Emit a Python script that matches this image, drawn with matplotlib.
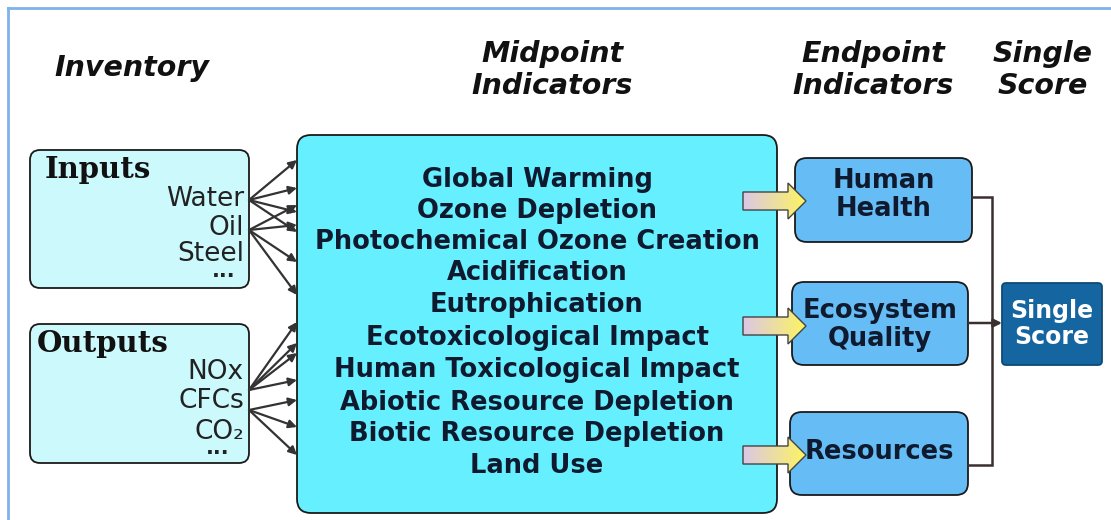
import matplotlib
matplotlib.use("Agg")
import matplotlib.pyplot as plt
import numpy as np
from matplotlib.patches import FancyBboxPatch, Polygon

# ---- content ----
headers = ["Inventory", "Midpoint\nIndicators", "Endpoint\nIndicators", "Single\nScore"]
input_title = "Inputs"
input_items = ["Water", "Oil", "Steel", "···"]
output_title = "Outputs"
output_items = ["NOx", "CFCs", "CO₂", "···"]
midpoints = ["Global Warming", "Ozone Depletion", "Photochemical Ozone Creation",
             "Acidification", "Eutrophication", "Ecotoxicological Impact",
             "Human Toxicological Impact", "Abiotic Resource Depletion",
             "Biotic Resource Depletion", "Land Use"]
endpoints = ["Human\nHealth", "Ecosystem\nQuality", "Resources"]
single = "Single\nScore"

W, H = 1111, 520
fig = plt.figure(figsize=(W / 100, H / 100), dpi=100)
ax = fig.add_axes([0, 0, 1, 1])
ax.set_xlim(0, W)
ax.set_ylim(H, 0)
ax.axis("off")

# frame lines
ax.plot([8, 8], [8, H], color="#7fb2ea", lw=2)
ax.plot([8, W], [8, 8], color="#7fb2ea", lw=2)

def rbox(x0, y0, x1, y1, fc, r=10, ec="#1a1a1a", lw=1.3, z=2):
    p = FancyBboxPatch((x0, y0), x1 - x0, y1 - y0,
                       boxstyle=f"round,pad=0,rounding_size={r}",
                       fc=fc, ec=ec, lw=lw, zorder=z)
    ax.add_patch(p)
    return p

# headers
hdr_font = dict(fontsize=20.5, fontweight="bold", style="italic", color="#111111",
                family="DejaVu Sans", ha="center", va="center", linespacing=1.2)
ax.text(132, 68, headers[0], **hdr_font)
ax.text(552, 70, headers[1], **hdr_font)
ax.text(873, 70, headers[2], **hdr_font)
ax.text(1043, 70, headers[3], **hdr_font)

# inventory boxes
rbox(30, 150, 249, 288, "#ccf9fc")
rbox(30, 324, 249, 463, "#ccf9fc")
ax.text(45, 169, input_title, fontsize=21, fontweight="bold", family="DejaVu Serif",
        color="#111111", ha="left", va="center", zorder=3)
ax.text(37, 343, output_title, fontsize=21, fontweight="bold", family="DejaVu Serif",
        color="#111111", ha="left", va="center", zorder=3)
in_y = [199, 228, 254]
out_y = [372, 401, 432]
for t, y in zip(input_items[:3], in_y):
    ax.text(244, y, t, fontsize=19, family="DejaVu Sans", color="#222222",
            ha="right", va="center", zorder=3)
for t, y in zip(output_items[:3], out_y):
    ax.text(244, y, t, fontsize=19, family="DejaVu Sans", color="#222222",
            ha="right", va="center", zorder=3)
ax.text(235, 276, input_items[3], fontsize=15, fontweight="bold", family="DejaVu Sans",
        color="#222222", ha="right", va="center", zorder=3)
ax.text(230, 453, output_items[3], fontsize=15, fontweight="bold", family="DejaVu Sans",
        color="#222222", ha="right", va="center", zorder=3)

# midpoint box
rbox(297, 135, 777, 513, "#66efff", r=14)
mid_y = [180, 211, 242, 273, 305, 338, 370, 403, 434, 466]
for t, y in zip(midpoints, mid_y):
    ax.text(537, y, t, fontsize=18.5, fontweight="bold", family="DejaVu Sans",
            color="#101a2e", ha="center", va="center", zorder=3)

# fan arrows inventory -> midpoint
fans = [((249, 200), [160, 188, 212, 232]),
        ((249, 230), [205, 225, 262, 295]),
        ((249, 390), [322, 343, 353, 380]),
        ((249, 410), [400, 427, 455])]
for (sx, sy), tys in fans:
    for ty in tys:
        ax.annotate("", xy=(297, ty), xytext=(sx, sy),
                    arrowprops=dict(arrowstyle="-|>", color="#333333", lw=1.6,
                                    mutation_scale=12, shrinkA=0, shrinkB=0),
                    zorder=4)

# endpoint boxes
end_boxes = [(795, 158, 972, 242), (792, 282, 968, 365), (790, 412, 968, 495)]
end_text_y = [195, 325, 452]
for (x0, y0, x1, y1), t, ty in zip(end_boxes, endpoints, end_text_y):
    rbox(x0, y0, x1, y1, "#66bdf5", r=12)
    ax.text((x0 + x1) / 2, ty, t, fontsize=18.5, fontweight="bold", family="DejaVu Sans",
            color="#101a2e", ha="center", va="center", linespacing=1.15, zorder=3)

# gradient block arrows
grad = np.linspace(0, 1, 256).reshape(1, -1)
c0 = np.array([0.86, 0.78, 0.90])
c1 = np.array([0.99, 0.96, 0.38])
img = (c0[None, None, :] * (1 - grad[..., None]) + c1[None, None, :] * grad[..., None])
for cy in [201, 326, 455]:
    x0, xb, xt = 743, 788, 806
    bh, hh = 9, 18
    pts = [(x0, cy - bh), (xb, cy - bh), (xb, cy - hh), (xt, cy),
           (xb, cy + hh), (xb, cy + bh), (x0, cy + bh)]
    poly = Polygon(pts, closed=True, fc="none", ec="#444444", lw=1.0, zorder=6)
    ax.add_patch(poly)
    im = ax.imshow(img, extent=(x0, xt, cy + hh, cy - hh), aspect="auto", zorder=5)
    clip = Polygon(pts, closed=True, transform=ax.transData)
    im.set_clip_path(clip)
ax.set_xlim(0, W)
ax.set_ylim(H, 0)

# connectors to single score
lc = "#3a3030"
ax.plot([972, 992, 992, 968], [197, 197, 465, 465], color=lc, lw=1.8, zorder=2,
        solid_joinstyle="miter")
ax.annotate("", xy=(1002, 323), xytext=(968, 323),
            arrowprops=dict(arrowstyle="-|>", color=lc, lw=1.8, mutation_scale=12,
                            shrinkA=0, shrinkB=0), zorder=4)

# single score box
rbox(1002, 283, 1102, 365, "#1565a0", r=4, ec="#0d4a78")
ax.text(1052, 324, single, fontsize=17, fontweight="bold", family="DejaVu Sans",
        color="white", ha="center", va="center", linespacing=1.15, zorder=3)

fig.savefig("out.png", dpi=100, facecolor="white")
